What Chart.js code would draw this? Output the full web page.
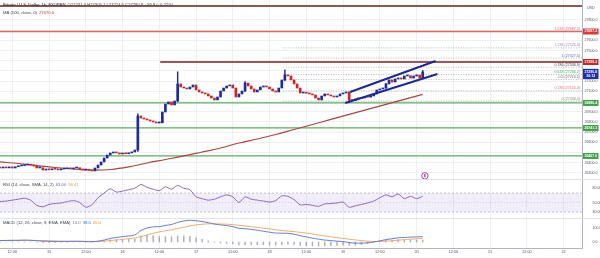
<!DOCTYPE html>
<html lang="en">
<head>
<meta charset="UTF-8">
<title>Bitcoin / U.S. Dollar, 1h</title>
<script src="https://cdn.jsdelivr.net/npm/chart.js@4"></script>
<style>
    body { margin: 0; background: #fff; }
    #wrap { position: relative; width: 600px; height: 258px; overflow: hidden; background: #fff; }
    #wrap canvas { position: absolute; left: 0; }
</style>
</head>
<body>
<div id="wrap">
    <canvas id="priceChart" width="600" height="179" style="top:0;width:600px;height:179px"></canvas>
    <canvas id="rsiChart" width="600" height="39" style="top:179px;width:600px;height:39px"></canvas>
    <canvas id="macdChart" width="600" height="40" style="top:218px;width:600px;height:40px"></canvas>
</div>
<script>
// ---- data ----
const tickIdx = [4, 16, 28, 40, 52, 64, 76, 88, 100, 112, 124, 136, 148, 160, 172, 184];
const tickLabels = ['12:00', '15', '12:00', '16', '12:00', '17', '12:00', '18', '12:00', '19', '12:00', '20', '12:00', '21', '12:00', '22'];
const xMax = 190;

const firstOpen = 26355;
const closes = [
    26349, 26359, 26350, 26360, 26349, 26361, 26369, 26372, 26378, 26381,
    26377, 26368, 26349, 26352, 26329, 26338, 26331, 26340, 26337, 26330,
    26339, 26341, 26350, 26340, 26349, 26352, 26340, 26329, 26331, 26327,
    26320, 26349, 26378, 26408, 26447, 26476, 26496, 26506, 26497, 26486,
    26496, 26488, 26497, 26506, 26525, 26859, 26839, 26829, 26820, 26810,
    26800, 26790, 26792, 26898, 26976, 26996, 26967, 27006, 27173, 27143,
    27133, 27124, 27143, 27163, 27114, 27094, 27084, 27075, 27055, 27035,
    27016, 27045, 27104, 27133, 27153, 27163, 27133, 27045, 27075, 27104,
    27182, 27153, 27124, 27094, 27114, 27143, 27153, 27143, 27124, 27104,
    27094, 27133, 27212, 27261, 27251, 27212, 27173, 27133, 27084, 27086,
    27082, 27075, 27065, 27035, 27016, 27055, 27075, 27065, 27055, 27045,
    27055, 27075, 27084, 27094, 27016, 27010, 27026, 27030, 27035, 27045,
    27043, 27055, 27075, 27114, 27124, 27133, 27173, 27212, 27192, 27222,
    27231, 27222, 27251, 27254, 27231, 27251, 27261, 27231, 27290.8
];
// [candle index, low, high] for the wicks that show
const wicks = [[45, 26512, 26880], [58, 27000, 27292], [80, 27100, 27195], [93, 27205, 27312],
               [114, 26990, 27094], [126, 27128, 27180], [138, 27226, 27305]];

const smaIdx = [0, 6, 12, 18, 24, 30, 36, 42, 48, 54, 60, 66, 72, 78, 84, 90, 96, 102, 108, 114, 120, 126, 132, 138];
const smaValues = [26408, 26393, 26373, 26354, 26339, 26329, 26334, 26359, 26398, 26432, 26467, 26506,
                   26545, 26594, 26633, 26677, 26726, 26775, 26825, 26874, 26923, 26972, 27021, 27070];

const channelUpper = [{ x: 114.3, y: 27094 }, { x: 142.2, y: 27398 }];
const channelLower = [{ x: 112.7, y: 26986 }, { x: 142.8, y: 27271 }];

const levelPrices = [27937, 27687.2, 27388.2, 26986.4, 26741.3, 26467.0];
const levelStart = [0, 0, 52.3, 0, 0, 0];

const fibRatios = ['1.618', '1.236', '1', '0.786', '0.618', '0.5', '0.236', '0'];
const fibPrices = [27687.2, 27526.4, 27427.0, 27336.9, 27266.2, 27216.5, 27105.4, 27006.0];
const fibStart = 92.5;

const priceTicks = [26300, 26400, 26500, 26600, 26700, 26800, 26900, 27000, 27100, 27200, 27300, 27400, 27500, 27600, 27700, 27800];

const eventIdx = 138.7;
const eventPrice = 26272;

// indicators, one value every 2 candles
const indIdx = Array.from({ length: 70 }, (_, k) => k * 2);
const rsiValues = [
    52, 53, 55, 57, 59, 55, 44, 41, 46, 48,
    49, 52, 54, 50, 40, 45, 60, 70, 79, 72,
    74, 77, 80, 88, 82, 78, 75, 83, 78, 86,
    80, 77, 62, 58, 55, 57, 62, 66, 62, 50,
    62, 57, 55, 53, 51, 54, 64, 63, 56, 45,
    46, 44, 42, 47, 48, 49, 51, 40, 43, 46,
    49, 53, 60, 66, 62, 68, 58, 63, 58, 63
];
const rsiTicks = [80, 50, 30];
const macdValues = [
    10, 11, 12, 12, 13, 12, 9, 6, 5, 4,
    4, 4, 5, 5, 3, 2, 6, 14, 25, 32,
    38, 43, 50, 82, 100, 108, 110, 118, 125, 140,
    150, 155, 152, 146, 138, 128, 122, 117, 110, 98,
    95, 90, 84, 77, 70, 64, 63, 62, 56, 45,
    36, 28, 20, 14, 10, 6, 3, -4, -8, -8,
    -6, 0, 8, 17, 23, 30, 32, 35, 36, 39
];
const signalValues = [
    11, 11, 11, 11.5, 12, 12, 11, 10, 8, 7,
    6, 5.5, 5, 5, 4.5, 4, 4, 6, 10, 14,
    19, 24, 29, 38, 50, 62, 72, 80, 88, 97,
    106, 115, 122, 127, 130, 130, 129, 127, 124, 119,
    114, 109, 104, 98, 93, 87, 82, 78, 74, 69,
    63, 57, 50, 43, 37, 31, 26, 20, 15, 10,
    6, 4, 4, 6, 9, 13, 17, 20, 23, 26
];
const macdTicks = [100, 0];

// ---- styles ----
const FONT = "'Liberation Sans', Arial, sans-serif";
const UP = '#1c2c9c', DOWN = '#c62828';
const levelColors = ['#8a5a52', '#e06666', '#7a1f22', '#5cab5f', '#5cab5f', '#5cab5f'];
const levelWidths = [2, 1.5, 1.5, 1.2, 1.2, 1.2];
const fibColors = ['#e06666', '#9a86c0', '#5c6bc0', '#444', '#4caf50', '#666', '#e07070', '#888'];
const tagColors = ['#d93b3b', '#c62828', '#43a047', '#43a047', '#43a047'];
const tagPrices = [27687.2, 27388.2, 26986.4, 26741.3, 26467.0];
const GRID = '#eef0f4';

const lastClose = closes[closes.length - 1];
const lastOpen = closes[closes.length - 2];

function fixY(width) {
    return a => { a.width = width; a.paddingTop = 0; a.paddingBottom = 0; };
}
function fixX(height) {
    return a => { a.height = height; a.paddingLeft = 0; a.paddingRight = 0; };
}
function xScale(showLabels) {
    return {
        type: 'linear', min: 0, max: xMax, offset: false,
        afterBuildTicks: a => { a.ticks = tickIdx.map(v => ({ value: v })); },
        afterFit: fixX(showLabels ? 10 : 0),
        ticks: {
            display: showLabels, autoSkip: false, maxRotation: 0, padding: 2,
            color: '#50535e', font: { size: 3.8, family: FONT },
            callback: (v, i) => tickLabels[i]
        },
        grid: { color: GRID, drawTicks: false, offset: false },
        border: { display: showLabels, color: '#b2b5be' }
    };
}
function drawLegend(ctx, y, parts) {
    ctx.save();
    ctx.font = `4.2px ${FONT}`;
    ctx.textBaseline = 'alphabetic';
    let x = 3;
    parts.forEach(p => {
        ctx.fillStyle = p[1];
        ctx.fillText(p[0], x, y);
        x += ctx.measureText(p[0]).width + 2;
    });
    ctx.restore();
}
function drawTag(ctx, area, y, bg, lines) {
    const h = lines.length * 4.2 + 1.8;
    ctx.fillStyle = bg;
    ctx.fillRect(area.right + 1, y - h / 2, 15.5, h);
    ctx.fillStyle = '#fff';
    ctx.font = `bold 3.5px ${FONT}`;
    ctx.textAlign = 'center';
    ctx.textBaseline = 'middle';
    lines.forEach((t, k) => ctx.fillText(t, area.right + 8.8, y - h / 2 + 3 + k * 4.2));
}

// ---- price pane ----
const bodies = closes.map((c, i) => ({ x: i, y: [i === 0 ? firstOpen : closes[i - 1], c] }));
const bodyColors = bodies.map(d => (d.y[1] >= d.y[0] ? UP : DOWN));
const wickData = wicks.map(w => ({ x: w[0], y: [w[1], w[2]] }));
const wickColors = wicks.map(w => bodyColors[w[0]]);

const priceOverlay = {
    id: 'priceOverlay',
    beforeDatasetsDraw(chart) {
        const { ctx, chartArea: a, scales: { x, y } } = chart;
        ctx.save();
        ctx.beginPath(); ctx.rect(a.left, a.top, a.width, a.height); ctx.clip();
        // fib dotted levels
        ctx.setLineDash([1, 1.5]);
        ctx.lineWidth = 0.8;
        fibPrices.forEach((p, k) => {
            if (k === 0) return;
            const py = y.getPixelForValue(p);
            ctx.strokeStyle = 'rgba(130,130,140,0.7)';
            ctx.beginPath(); ctx.moveTo(x.getPixelForValue(fibStart), py); ctx.lineTo(a.right, py); ctx.stroke();
        });
        ctx.setLineDash([]);
        levelPrices.forEach((p, k) => {
            const py = y.getPixelForValue(p);
            ctx.strokeStyle = levelColors[k];
            ctx.lineWidth = levelWidths[k];
            ctx.beginPath(); ctx.moveTo(x.getPixelForValue(levelStart[k]), py); ctx.lineTo(a.right, py); ctx.stroke();
        });
        ctx.restore();
    },
    afterDatasetsDraw(chart) {
        const { ctx, chartArea: a, scales: { x, y } } = chart;
        ctx.save();
        ctx.font = `3.6px ${FONT}`;
        ctx.textAlign = 'right';
        ctx.textBaseline = 'bottom';
        fibPrices.forEach((p, k) => {
            ctx.fillStyle = fibColors[k];
            ctx.fillText(`${fibRatios[k]} (${p.toFixed(1)})`, a.right - 2, y.getPixelForValue(p) - 0.6);
        });
        // event marker
        const ex = x.getPixelForValue(eventIdx), ey = y.getPixelForValue(eventPrice);
        ctx.beginPath(); ctx.arc(ex, ey, 3.2, 0, Math.PI * 2);
        ctx.fillStyle = '#fff'; ctx.fill();
        ctx.strokeStyle = '#9c27b0'; ctx.lineWidth = 0.9; ctx.stroke();
        ctx.fillStyle = '#9c27b0'; ctx.font = `bold 3.6px ${FONT}`; ctx.textAlign = 'center'; ctx.textBaseline = 'middle';
        ctx.fillText('E', ex, ey + 0.2);
        ctx.restore();
        drawLegend(ctx, 5.5, [
            ['Bitcoin / U.S. Dollar, 1h, FXOPEN', '#131722'],
            [`O${lastOpen.toFixed(1)} H27305.2 L27224.6 C${lastClose.toFixed(1)} +59.8 (+0.22%)`, '#3c3f4a']
        ]);
        drawLegend(ctx, 13.5, [['MA (100, close, 0)', '#3c3f4a'], [smaValues[smaValues.length - 1].toFixed(1), '#c0392b']]);
    },
    afterDraw(chart) {
        const { ctx, chartArea: a, scales: { y } } = chart;
        ctx.save();
        tagPrices.forEach((p, k) => drawTag(ctx, a, y.getPixelForValue(p), tagColors[k], [p.toFixed(1)]));
        drawTag(ctx, a, y.getPixelForValue(lastClose) + 2, '#1f2fb0', [lastClose.toFixed(1), '36:12']);
        ctx.fillStyle = '#50535e';
        ctx.font = `3.6px ${FONT}`;
        ctx.textAlign = 'left';
        ctx.textBaseline = 'middle';
        ctx.fillText('USD', a.right + 5, 7.5);
        ctx.restore();
    }
};

new Chart(document.getElementById('priceChart'), {
    type: 'bar',
    data: {
        datasets: [
            { type: 'line', data: channelUpper, borderColor: '#1c2a8f', borderWidth: 2, pointRadius: 0 },
            { type: 'line', data: channelLower, borderColor: '#1c2a8f', borderWidth: 2, pointRadius: 0 },
            { type: 'bar', data: bodies, backgroundColor: bodyColors, barThickness: 2, minBarLength: 1, grouped: false },
            { type: 'bar', data: wickData, backgroundColor: wickColors, barThickness: 0.8, grouped: false },
            { type: 'line', data: smaIdx.map((v, k) => ({ x: v, y: smaValues[k] })), borderColor: '#a8473c',
              borderWidth: 1.2, pointRadius: 0, tension: 0.4 }
        ]
    },
    options: {
        responsive: false, devicePixelRatio: 1, animation: false,
        layout: { padding: 0 },
        plugins: { legend: { display: false }, tooltip: { enabled: false } },
        scales: {
            x: xScale(false),
            y: {
                position: 'right', min: 26241, max: 27996,
                afterBuildTicks: a => { a.ticks = priceTicks.map(v => ({ value: v })); },
                afterFit: fixY(18),
                ticks: {
                    autoSkip: false, padding: 2.5, color: '#50535e', font: { size: 3.6, family: FONT },
                    callback: v => (tagPrices.concat([lastClose]).some(p => Math.abs(p - v) < 35) ? '' : v.toFixed(1))
                },
                grid: { color: GRID, drawTicks: false },
                border: { color: '#b2b5be' }
            }
        }
    },
    plugins: [priceOverlay]
});

// ---- RSI pane ----
const rsiOverlay = {
    id: 'rsiOverlay',
    beforeDatasetsDraw(chart) {
        const { ctx, chartArea: a, scales: { y } } = chart;
        const top = y.getPixelForValue(70), bot = y.getPixelForValue(30), mid = y.getPixelForValue(50);
        ctx.save();
        ctx.fillStyle = 'rgba(126,87,194,0.1)';
        ctx.fillRect(a.left, top, a.width, bot - top);
        ctx.strokeStyle = 'rgba(120,123,134,0.6)';
        ctx.lineWidth = 0.7;
        ctx.setLineDash([2, 2]);
        [top, bot].forEach(py => { ctx.beginPath(); ctx.moveTo(a.left, py); ctx.lineTo(a.right, py); ctx.stroke(); });
        ctx.setLineDash([1, 2]);
        ctx.strokeStyle = 'rgba(120,123,134,0.35)';
        ctx.beginPath(); ctx.moveTo(a.left, mid); ctx.lineTo(a.right, mid); ctx.stroke();
        ctx.setLineDash([]);
        ctx.strokeStyle = '#e0e3eb';
        ctx.lineWidth = 1;
        ctx.beginPath(); ctx.moveTo(0, 0.5); ctx.lineTo(600, 0.5); ctx.stroke();
        ctx.restore();
    },
    afterDatasetsDraw(chart) {
        drawLegend(chart.ctx, 6.5, [['RSI (14, close, SMA, 14, 2)', '#3c3f4a'],
            [rsiValues[rsiValues.length - 1].toFixed(2), '#7e57c2'], ['58.41', '#d4a53c']]);
    }
};

new Chart(document.getElementById('rsiChart'), {
    type: 'line',
    data: {
        datasets: [{ data: indIdx.map((v, k) => ({ x: v, y: rsiValues[k] })), borderColor: '#7e57c2',
                     borderWidth: 0.9, pointRadius: 0, tension: 0.2 }]
    },
    options: {
        responsive: false, devicePixelRatio: 1, animation: false,
        layout: { padding: 0 },
        plugins: { legend: { display: false }, tooltip: { enabled: false } },
        scales: {
            x: xScale(false),
            y: {
                position: 'right', min: 17.4, max: 99.5,
                afterBuildTicks: a => { a.ticks = rsiTicks.map(v => ({ value: v })); },
                afterFit: fixY(18),
                ticks: { autoSkip: false, padding: 2.5, color: '#50535e', font: { size: 3.6, family: FONT },
                         callback: v => v.toFixed(2) },
                grid: { display: false },
                border: { color: '#b2b5be' }
            }
        }
    },
    plugins: [rsiOverlay]
});

// ---- MACD pane ----
const histData = indIdx.map((v, k) => ({ x: v, y: macdValues[k] - signalValues[k] }));

const macdOverlay = {
    id: 'macdOverlay',
    beforeDatasetsDraw(chart) {
        const { ctx } = chart;
        ctx.save();
        ctx.strokeStyle = '#e0e3eb';
        ctx.lineWidth = 1;
        ctx.beginPath(); ctx.moveTo(0, 0.5); ctx.lineTo(600, 0.5); ctx.stroke();
        ctx.restore();
    },
    afterDatasetsDraw(chart) {
        const n = macdValues.length - 1;
        drawLegend(chart.ctx, 5.5, [['MACD (12, 26, close, 9, EMA, EMA)', '#3c3f4a'],
            [(macdValues[n] - signalValues[n]).toFixed(1), '#787b86'],
            [macdValues[n].toFixed(1), '#4a66c8'], [signalValues[n].toFixed(1), '#ef8d3c']]);
    }
};

new Chart(document.getElementById('macdChart'), {
    type: 'bar',
    data: {
        datasets: [
            { type: 'line', data: indIdx.map((v, k) => ({ x: v, y: macdValues[k] })), borderColor: '#5670c8',
              borderWidth: 0.9, pointRadius: 0, tension: 0.3 },
            { type: 'line', data: indIdx.map((v, k) => ({ x: v, y: signalValues[k] })), borderColor: '#f0a060',
              borderWidth: 0.9, pointRadius: 0, tension: 0.3 },
            { type: 'bar', data: histData, backgroundColor: 'rgba(110,112,122,0.55)', barThickness: 0.8, grouped: false }
        ]
    },
    options: {
        responsive: false, devicePixelRatio: 1, animation: false,
        layout: { padding: 0 },
        plugins: { legend: { display: false }, tooltip: { enabled: false } },
        scales: {
            x: xScale(true),
            y: {
                position: 'right', min: -42.9, max: 171.4,
                afterBuildTicks: a => { a.ticks = macdTicks.map(v => ({ value: v })); },
                afterFit: fixY(18),
                ticks: { autoSkip: false, padding: 2.5, color: '#50535e', font: { size: 3.6, family: FONT },
                         callback: v => v.toFixed(1) },
                grid: { display: false },
                border: { color: '#b2b5be' }
            }
        }
    },
    plugins: [macdOverlay]
});
</script>
</body>
</html>
